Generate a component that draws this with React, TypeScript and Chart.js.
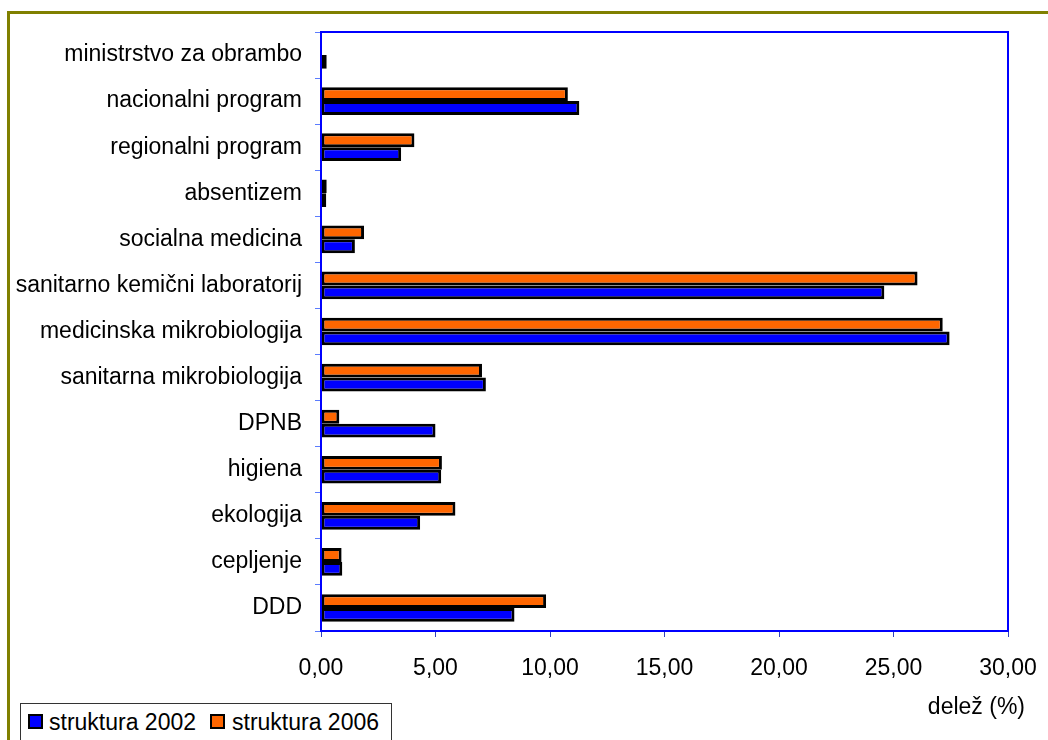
import React, { useEffect, useRef } from "react";
import { Chart, registerables } from "chart.js";

Chart.register(...registerables);

const categories = [
  "ministrstvo za obrambo",
  "nacionalni program",
  "regionalni program",
  "absentizem",
  "socialna medicina",
  "sanitarno kemični laboratorij",
  "medicinska mikrobiologija",
  "sanitarna mikrobiologija",
  "DPNB",
  "higiena",
  "ekologija",
  "cepljenje",
  "DDD",
];

const struktura2002 = [0.25, 11.28, 3.5, 0.23, 1.48, 24.6, 27.45, 7.2, 5.0, 5.25, 4.33, 0.93, 8.45];
const struktura2006 = [0, 10.78, 4.08, 0.25, 1.88, 26.05, 27.15, 7.03, 0.8, 5.28, 5.87, 0.9, 9.83];

const xTicks = [0, 5, 10, 15, 20, 25, 30];

const BLUE = "#0000ff";
const ORANGE = "#ff6600";
const FONT = "'Liberation Sans', Arial, sans-serif";
const FONT_SIZE = 23;

// Blue frame around the whole plot area
const frame = {
  id: "plotFrame",
  afterDraw(chart: any) {
    const { ctx, chartArea: a } = chart;
    ctx.save();
    ctx.strokeStyle = BLUE;
    ctx.lineWidth = 2;
    ctx.strokeRect(a.left, a.top, a.right - a.left, a.bottom - a.top);
    ctx.restore();
  },
};

export default function App() {
  const canvasRef = useRef<HTMLCanvasElement | null>(null);

  useEffect(() => {
    const canvas = canvasRef.current;
    if (!canvas) return;
    const chart = new Chart(canvas, {
      type: "bar",
      data: {
        labels: categories,
        datasets: [
          {
            label: "struktura 2006",
            data: struktura2006,
            backgroundColor: ORANGE,
            borderColor: "#000000",
            borderWidth: 3,
            borderSkipped: false,
          },
          {
            label: "struktura 2002",
            data: struktura2002,
            backgroundColor: BLUE,
            borderColor: "#000000",
            borderWidth: 3,
            borderSkipped: false,
          },
        ],
      },
      plugins: [frame],
      options: {
        indexAxis: "y",
        responsive: false,
        animation: false,
        devicePixelRatio: 1,
        layout: { padding: { left: 0, right: 40, top: 32, bottom: 0 } },
        datasets: {
          bar: { categoryPercentage: 0.6, barPercentage: 1.0 },
        },
        font: { family: FONT, size: FONT_SIZE },
        plugins: {
          legend: { display: false },
          tooltip: { enabled: false },
        },
        scales: {
          x: {
            type: "linear",
            min: 0,
            max: 30,
            afterBuildTicks(scale: any) {
              scale.ticks = xTicks.map((v) => ({ value: v }));
            },
            afterFit(scale: any) {
              scale.height = 109;
              scale.paddingLeft = 0;
              scale.paddingRight = 0;
            },
            grid: {
              drawOnChartArea: false,
              drawTicks: true,
              tickLength: 6,
              color: "#3040c0",
            },
            border: { color: BLUE, width: 2 },
            ticks: {
              color: "#000000",
              padding: 18,
              maxRotation: 0,
              font: { family: FONT, size: FONT_SIZE },
              callback: (v: any) => Number(v).toFixed(2).replace(".", ","),
            },
          },
          y: {
            type: "category",
            afterFit(scale: any) {
              scale.width = 321;
              scale.paddingTop = 0;
              scale.paddingBottom = 0;
            },
            grid: {
              drawOnChartArea: false,
              drawTicks: true,
              tickLength: 6,
              offset: true,
              color: "#5b7cff",
            },
            border: { color: BLUE, width: 2 },
            ticks: {
              color: "#000000",
              padding: 13,
              autoSkip: false,
              font: { family: FONT, size: FONT_SIZE },
            },
          },
        },
      },
    } as any);
    return () => chart.destroy();
  }, []);

  const textStyle: React.CSSProperties = {
    position: "absolute",
    fontFamily: FONT,
    fontSize: FONT_SIZE,
    lineHeight: `${FONT_SIZE}px`,
    color: "#000",
    whiteSpace: "nowrap",
  };

  const swatch = (left: number, color: string): React.CSSProperties => ({
    position: "absolute",
    left,
    top: 10,
    width: 11,
    height: 11,
    background: color,
    border: "2px solid #000",
  });

  return (
    <div
      style={{
        position: "fixed",
        left: 0,
        top: 0,
        width: 1048,
        height: 740,
        overflow: "hidden",
        background: "#fff",
      }}
    >
      <div
        style={{
          position: "absolute",
          left: 7,
          top: 11,
          width: 1200,
          height: 900,
          borderLeft: "3px solid #808000",
          borderTop: "3px solid #808000",
        }}
      />
      <canvas
        ref={canvasRef}
        width={1048}
        height={740}
        style={{ position: "absolute", left: 0, top: 0, width: 1048, height: 740 }}
      />
      <div style={{ ...textStyle, right: 1048 - 1025, top: 695 }}>delež (%)</div>
      <div
        style={{
          position: "absolute",
          left: 20,
          top: 703,
          width: 370,
          height: 40,
          border: "1px solid #333",
          background: "#fff",
        }}
      >
        <div style={swatch(7, BLUE)} />
        <div style={{ ...textStyle, left: 28, top: 7 }}>struktura 2002</div>
        <div style={swatch(189, ORANGE)} />
        <div style={{ ...textStyle, left: 211, top: 7 }}>struktura 2006</div>
      </div>
    </div>
  );
}
